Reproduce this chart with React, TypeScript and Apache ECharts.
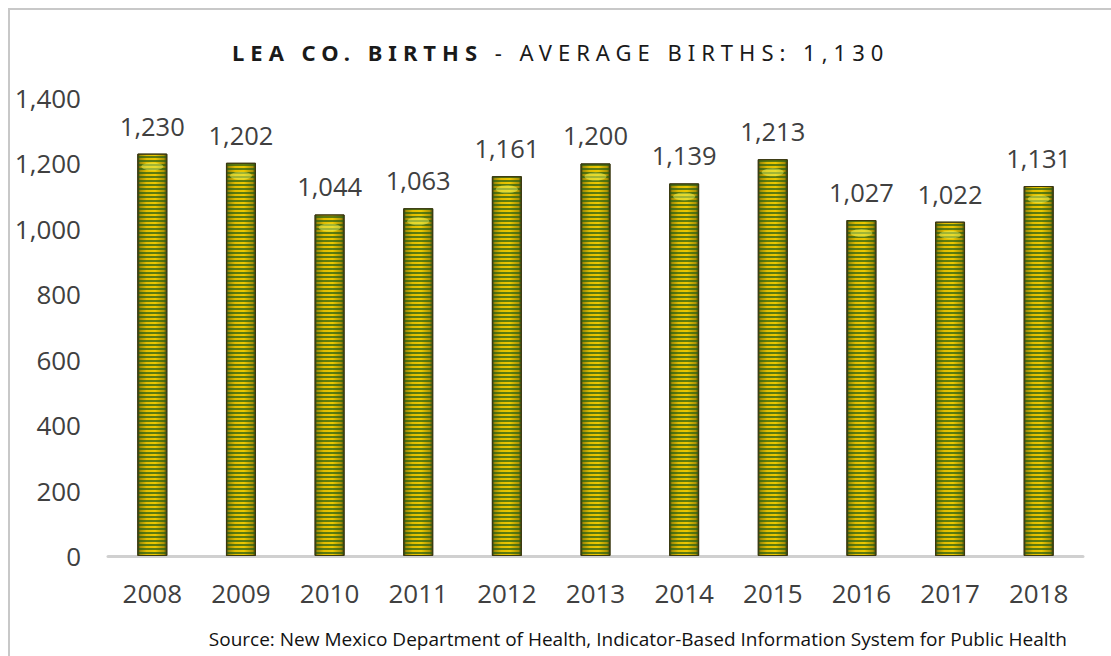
import React, { useEffect, useRef } from "react";
import * as echarts from "echarts";

// Lea County births per year
const years = ["2008", "2009", "2010", "2011", "2012", "2013", "2014", "2015", "2016", "2017", "2018"];
const births = [1230, 1202, 1044, 1063, 1161, 1200, 1139, 1213, 1027, 1022, 1131];
const titleBold = "LEA CO. BIRTHS";
const titleRest = " - AVERAGE BIRTHS: 1,130";
const sourceNote = "Source: New Mexico Department of Health, Indicator-Based Information System for Public Health";

const W = 1111;
const H = 656;
const LABEL_FONT = "'Open Sans', sans-serif";
// the title gets its own family so the stylesheet below can widen its tracking
const TITLE_FONT = "'Noto Sans', sans-serif";

const fmt = (v: number) => v.toLocaleString("en-US");

export default function App() {
  const ref = useRef<HTMLDivElement>(null);

  useEffect(() => {
    if (!ref.current) return;
    document.body.style.margin = "0";
    const chart = echarts.init(ref.current, null, { renderer: "svg", width: W, height: H });

    // gold cylinder shading across each bar, darker at the rims
    const barFill = new echarts.graphic.LinearGradient(0, 0, 1, 0, [
      { offset: 0, color: "#3d3a0c" },
      { offset: 0.08, color: "#a08c06" },
      { offset: 0.3, color: "#e0bc00" },
      { offset: 0.6, color: "#ecc800" },
      { offset: 0.9, color: "#ab9306" },
      { offset: 1, color: "#3d3a0c" },
    ]);

    chart.setOption({
      animation: false,
      backgroundColor: "#ffffff",
      grid: { left: 108, right: 28, top: 98, bottom: 100, containLabel: false },
      graphic: [
        {
          type: "rect",
          shape: { x: 9, y: 9, width: W + 40, height: H + 40 },
          style: { fill: "none", stroke: "#c8c8c8", lineWidth: 2 },
          silent: true,
        },
        {
          type: "text",
          x: 483,
          y: 52,
          style: {
            text: titleBold,
            font: `bold 22px ${TITLE_FONT}`,
            fill: "#1a1a1a",
            align: "right",
            verticalAlign: "middle",
          },
        },
        {
          type: "text",
          x: 483,
          y: 52,
          style: {
            text: titleRest,
            font: `22px ${TITLE_FONT}`,
            fill: "#1a1a1a",
            align: "left",
            verticalAlign: "middle",
          },
        },
        {
          type: "text",
          x: 1067,
          y: 639,
          style: {
            text: sourceNote,
            font: `19px ${LABEL_FONT}`,
            fill: "#111111",
            align: "right",
            verticalAlign: "middle",
          },
        },
      ],
      xAxis: {
        type: "category",
        data: years,
        axisLine: { show: true, lineStyle: { color: "#d0d0d0", width: 3 } },
        axisTick: { show: false },
        axisLabel: { color: "#404040", fontSize: 26, fontFamily: LABEL_FONT, margin: 24 },
      },
      yAxis: {
        type: "value",
        min: 0,
        max: 1400,
        interval: 200,
        axisLine: { show: false },
        axisTick: { show: false },
        splitLine: { show: false },
        axisLabel: {
          color: "#404040",
          fontSize: 26,
          fontFamily: LABEL_FONT,
          margin: 27,
          formatter: (v: number) => fmt(v),
        },
      },
      series: [
        {
          type: "bar",
          data: births,
          barWidth: 30,
          itemStyle: {
            color: barFill,
            borderColor: "#3a3810",
            borderWidth: 1,
            decal: {
              symbol: "rect",
              symbolSize: 1,
              dashArrayX: [1, 0],
              dashArrayY: [1.5, 1.5],
              color: "rgba(40, 95, 20, 0.72)",
              rotation: 0,
            },
          },
          label: {
            show: true,
            position: "top",
            distance: 15,
            color: "#404040",
            fontSize: 25.5,
            fontFamily: LABEL_FONT,
            formatter: (p: any) => fmt(p.value),
          },
          z: 2,
        },
        {
          // soft highlight just under each bar top
          type: "pictorialBar",
          data: births,
          symbol: "circle",
          symbolSize: [22, 8],
          symbolPosition: "end",
          symbolOffset: [0, 9],
          barGap: "-100%",
          itemStyle: { color: "rgba(230, 240, 90, 0.5)" },
          silent: true,
          z: 3,
        },
      ],
    });

    return () => chart.dispose();
  }, []);

  return (
    <div style={{ position: "fixed", left: 0, top: 0, width: W, height: H, overflow: "hidden", background: "#fff" }}>
      <style>{`.birth-chart text[style*="Noto"] { letter-spacing: 6px; }`}</style>
      <div className="birth-chart" ref={ref} style={{ width: W, height: H }} />
    </div>
  );
}
